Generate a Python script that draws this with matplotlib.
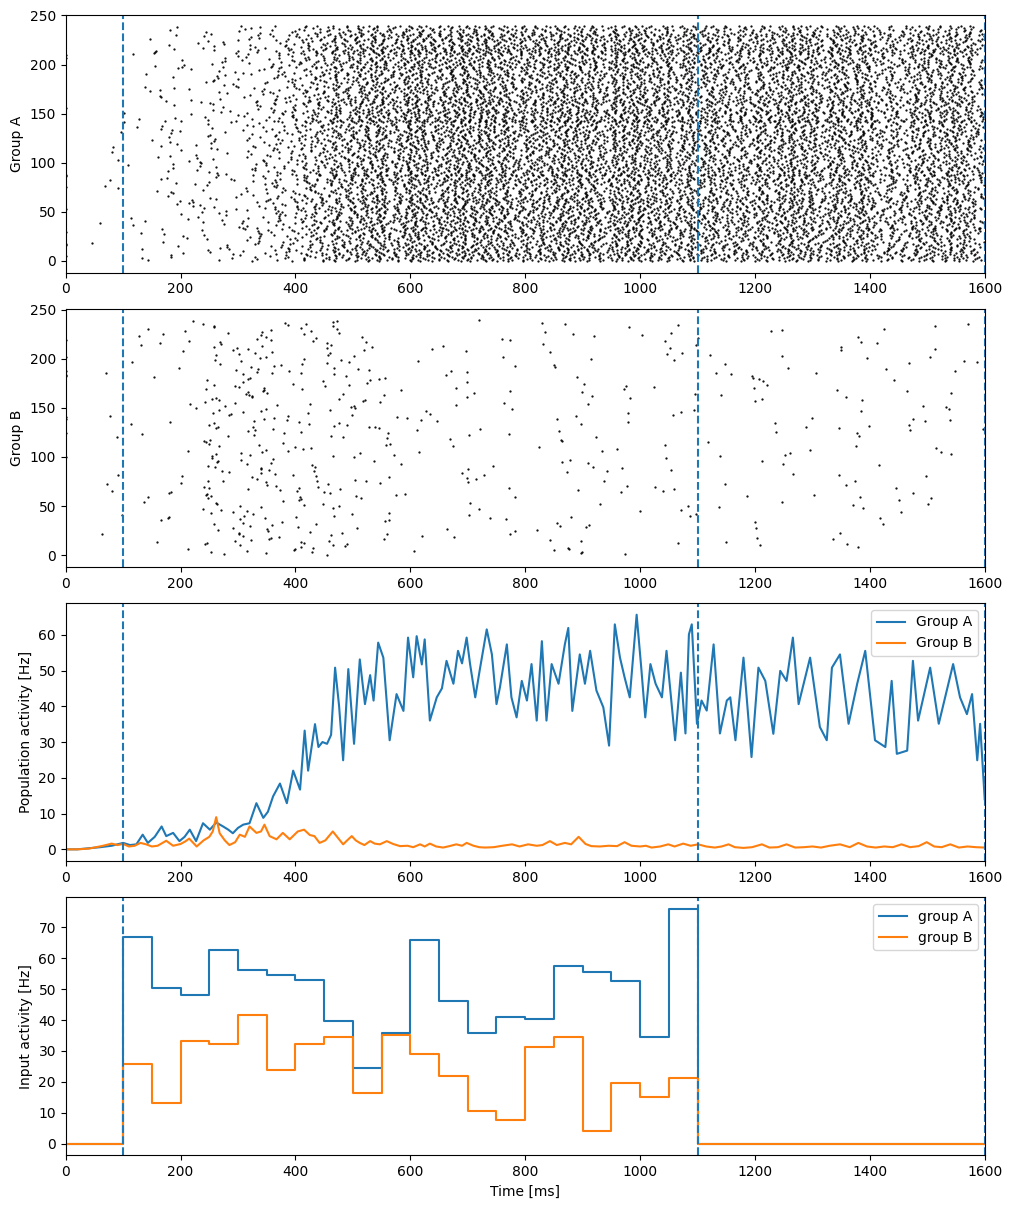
import numpy as np
import matplotlib
matplotlib.use('Agg')
import matplotlib.pyplot as plt

n_neurons = 240

# population activity: time [ms], rate [Hz]
pop_t_a = [0, 20, 40, 60, 80, 100, 112, 123, 134, 143, 155, 167, 175, 187, 198, 207, 216, 227, 239, 251,
           262, 274, 283, 291, 300, 309, 320, 332, 344, 352, 361, 373, 385, 396, 408, 416, 422, 434, 440, 447,
           455, 462, 469, 476, 483, 492, 502, 512, 521, 530, 536, 544, 553, 564, 576, 588, 596, 605, 611, 620,
           625, 634, 646, 655, 663, 675, 683, 690, 698, 704, 713, 721, 733, 742, 750, 756, 768, 776, 785, 794,
           803, 811, 820, 829, 837, 846, 858, 869, 875, 882, 895, 904, 913, 924, 936, 946, 956, 965, 973, 982,
           994, 1002, 1009, 1018, 1027, 1038, 1046, 1061, 1071, 1079, 1085, 1090, 1099, 1107, 1116, 1128, 1139,
           1151, 1157, 1166, 1180, 1194, 1206, 1218, 1232, 1244, 1255, 1266, 1276, 1296, 1313, 1325, 1334, 1348,
           1363, 1378, 1392, 1409, 1427, 1438, 1447, 1465, 1475, 1484, 1505, 1520, 1545, 1557, 1569, 1578, 1587,
           1592, 1598, 1600]
pop_a = [0, 0, 0.3, 0.6, 1.0, 1.8, 1.2, 1.4, 4.1, 1.8, 3.5, 6.4, 3.7, 4.6, 2.3, 3.5, 5.5, 2.3, 7.3, 5.5,
         7.5, 6.4, 5.5, 4.5, 6.0, 6.9, 7.3, 12.9, 8.8, 10.5, 14.8, 18.4, 12.9, 22, 16.7, 33.2, 22, 35, 28.6, 30,
         29.5, 32, 50.8, 40, 24.9, 50.4, 29.5, 53.1, 40.6, 48.7, 41.6, 57.8, 53.6, 30.5, 43.4, 38.7, 59.2, 48.1, 59.6, 51.7,
         58.7, 36, 42.5, 45, 52.7, 46.3, 55.5, 52, 59.2, 51.8, 42.5, 50.3, 61.5, 54.5, 40.6, 45.3, 57.3, 42.5, 36.9, 47.1,
         41.6, 51.8, 36, 58.2, 36, 51.8, 46.3, 57.3, 61.9, 38.7, 54.5, 46.3, 55.5, 44.4, 39.7, 29, 62.9, 53.6, 48.1, 42.5,
         65.6, 50.8, 36.9, 51.8, 46.3, 42.5, 55.5, 30.5, 49.4, 32.4, 60.1, 62.9, 35.1, 41.6, 38.8, 57.3, 32.4,
         41.6, 42.5, 30.5, 53.6, 25.8, 50.8, 47.1, 32.3, 49.9, 47.1, 59.2, 40.6, 53.6, 34.2, 30.5, 50.8, 54.5,
         35.1, 46.3, 55.5, 30.5, 28.6, 47.1, 26.7, 27.6, 52.7, 36, 50.8, 35.1, 51.8, 42.5, 37.8, 43.4, 24.9,
         35.1, 19.4, 14]

pop_t_b = [0, 20, 40, 50, 65, 80, 90, 100, 110, 120, 130, 140, 150, 160, 175, 187, 200, 208, 215, 228,
           240, 250, 256, 262, 268, 277, 285, 295, 303, 312, 320, 332, 340, 346, 355, 367, 378, 390, 404, 415,
           425, 433, 442, 452, 465, 475, 483, 490, 498, 505, 512, 520, 530, 538, 547, 559, 570, 582, 595, 605,
           617, 625, 634, 645, 657, 668, 680, 690, 698, 710, 720, 730, 745, 760, 777, 790, 805, 820, 830, 843,
           855, 869, 880, 893, 905, 915, 930, 945, 960, 973, 985, 1000, 1010, 1020, 1035, 1049, 1060, 1075, 1088,
           1101, 1115, 1130, 1142, 1154, 1165, 1180, 1195, 1212, 1225, 1240, 1255, 1270, 1285, 1300, 1315, 1330,
           1348, 1365, 1380, 1395, 1410, 1425, 1440, 1455, 1470, 1485, 1499, 1512, 1525, 1540, 1555, 1570, 1585, 1600]
pop_b = [0, 0, 0.2, 0.5, 1.0, 1.6, 1.2, 1.5, 0.8, 1.0, 1.8, 1.4, 0.8, 1.0, 2.4, 1.0, 1.5, 2.2, 3.0, 0.8,
         2.5, 3.5, 5.0, 9.0, 4.5, 2.5, 1.2, 2.0, 4.1, 3.5, 6.4, 4.6, 5.0, 6.9, 3.7, 2.8, 4.6, 2.8, 5.0, 5.5,
         4.0, 3.7, 1.8, 2.5, 5.0, 3.0, 1.4, 2.5, 3.7, 2.5, 1.8, 1.2, 2.3, 1.6, 1.4, 2.3, 1.5, 0.9, 1.0, 0.6,
         1.4, 0.8, 1.6, 0.8, 0.5, 0.9, 1.4, 1.0, 1.8, 1.0, 0.6, 0.5, 0.6, 1.0, 1.4, 0.8, 1.4, 1.0, 1.2, 2.3,
         1.2, 1.8, 1.4, 3.5, 1.5, 0.9, 0.8, 1.0, 0.9, 2.0, 1.0, 0.8, 1.0, 0.5, 0.8, 1.4, 0.8, 1.6, 1.0,
         1.4, 0.8, 0.5, 0.8, 1.4, 0.6, 0.4, 0.6, 1.4, 0.5, 0.6, 1.4, 0.5, 0.6, 0.8, 0.5, 1.0,
         1.4, 0.6, 1.8, 0.8, 0.5, 0.8, 0.6, 1.4, 0.6, 0.9, 2.0, 0.8, 0.6, 1.4, 0.5, 0.8, 0.6, 0.5]

# input rates, one value per 50 ms bin from 100 to 1100 ms
input_edges = [0, 100, 150, 200, 250, 300, 350, 400, 450, 500, 550, 600, 650, 700, 750, 800, 850,
               900, 950, 1000, 1050, 1100, 1600]
input_a = [0, 67, 50.3, 48.2, 62.8, 56.3, 54.5, 53, 39.6, 24.5, 35.8, 65.8, 46.2, 35.7, 41, 40.3,
           57.5, 55.7, 52.6, 34.5, 76, 0, 0]
input_b = [0, 25.8, 13, 33.3, 32.3, 41.6, 23.8, 32.4, 34.5, 16.5, 35.2, 29.1, 21.8, 10.5, 7.5, 31.2,
           34.4, 4.2, 19.5, 15.2, 21.3, 0, 0]

markers = [100, 1100, 1600]


def scramble(x):
    # deterministic hash in [0, 1)
    return (np.sin(x * 12.9898 + 4.1414) * 43758.5453) % 1.0


def spikes_from_rate(t_pts, r_pts, n=n_neurons, dt=0.1, seed=0.0):
    # lay out spike times so each neuron follows the population rate read above
    tt = np.arange(0, 1600, dt)
    cum = np.cumsum(np.interp(tt, t_pts, r_pts)) * dt / 1000.0
    times, ids = [], []
    for i in range(n):
        ph = scramble(i + seed)
        g = 0.6 + 0.8 * scramble(i + seed + 1000.5)
        c = cum * g + ph
        k = np.arange(1, int(c[-1]) + 1)
        # small per-spike wobble of the threshold
        k = k + 0.35 * (scramble(i * 131.0 + k * 7.31 + seed) - 0.5)
        idx = np.searchsorted(c, k)
        idx = idx[idx < len(tt)]
        times.extend(tt[idx])
        ids.extend([i] * len(idx))
    return np.array(times), np.array(ids)


spk_t_a, spk_i_a = spikes_from_rate(pop_t_a, pop_a)
spk_t_b, spk_i_b = spikes_from_rate(pop_t_b, pop_b, seed=0.37)

fig, axes = plt.subplots(4, 1, figsize=(10.11, 12.11), dpi=100)
fig.subplots_adjust(left=0.065, right=0.974, top=0.988, bottom=0.046, hspace=0.14)

ax1, ax2, ax3, ax4 = axes
ax1.plot(spk_t_a, spk_i_a, '.k', ms=1.2)
ax1.set_ylabel('Group A')

ax2.plot(spk_t_b, spk_i_b, '.k', ms=1.2)
ax2.set_ylabel('Group B')

ax3.plot(pop_t_a, pop_a, label='Group A')
ax3.plot(pop_t_b, pop_b, label='Group B')
ax3.set_ylabel('Population activity [Hz]')
ax3.legend(loc='upper right')

ax4.plot(input_edges, input_a, drawstyle='steps-post', label='group A')
ax4.plot(input_edges, input_b, drawstyle='steps-post', label='group B')
ax4.set_ylabel('Input activity [Hz]')
ax4.set_xlabel('Time [ms]')
ax4.legend(loc='upper right')

for ax in axes:
    for m in markers:
        ax.axvline(m, ls='--', color='C0')
    ax.set_xlim(0, 1600)

fig.savefig('out.png', dpi=100)
